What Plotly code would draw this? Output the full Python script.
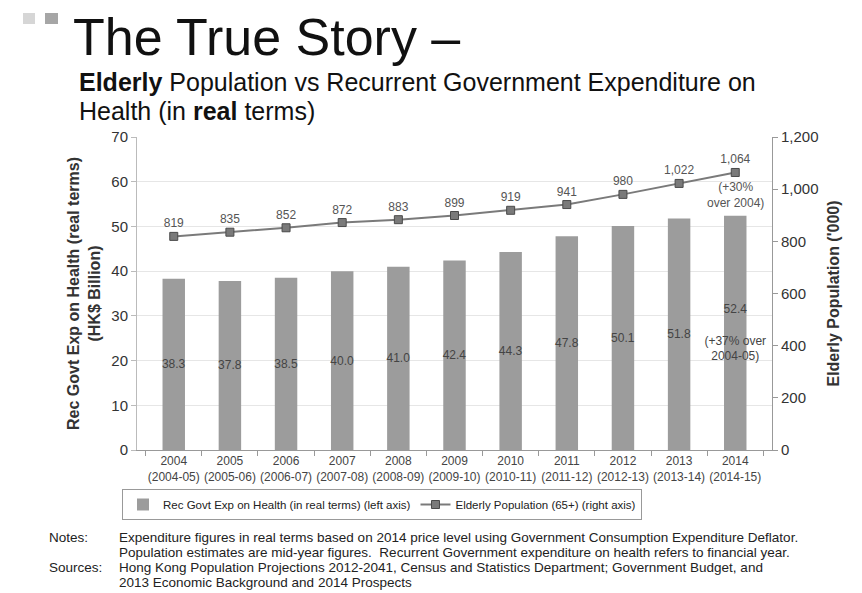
import plotly.graph_objects as go

years = ["2004", "2005", "2006", "2007", "2008", "2009", "2010", "2011", "2012", "2013", "2014"]
fin_years = ["2004-05", "2005-06", "2006-07", "2007-08", "2008-09", "2009-10",
             "2010-11", "2011-12", "2012-13", "2013-14", "2014-15"]
expenditure = [38.3, 37.8, 38.5, 40.0, 41.0, 42.4, 44.3, 47.8, 50.1, 51.8, 52.4]
elderly_pop = [819, 835, 852, 872, 883, 899, 919, 941, 980, 1022, 1064]

left_ticks = [0, 10, 20, 30, 40, 50, 60, 70]
right_ticks = [0, 200, 400, 600, 800, 1000, 1200]

note_lines = [
    "Expenditure figures in real terms based on 2014 price level using Government Consumption Expenditure Deflator.",
    "Population estimates are mid-year figures.  Recurrent Government expenditure on health refers to financial year.",
]
source_lines = [
    "Hong Kong Population Projections 2012-2041, Census and Statistics Department; Government Budget, and",
    "2013 Economic Background and 2014 Prospects",
]

W, H = 862, 593
L, R, T, B = 137, 772, 137, 450

def px(x):
    return (x - L) / (R - L)

def py(y):
    return (B - y) / (B - T)

cats = [f"{y}<br>({f})" for y, f in zip(years, fin_years)]

bar_text = [f"{v:.1f}" for v in expenditure]
bar_text[-1] = f"{expenditure[-1]:.1f}<br> <br>(+37% over<br>2004-05)"

SANS = "Liberation Sans, Arial"

fig = go.Figure()
fig.add_trace(go.Bar(
    x=cats, y=expenditure, name="Rec Govt Exp on Health (in real terms) (left axis)",
    marker=dict(color="#9c9c9c", line=dict(width=0)),
    text=bar_text, textposition="inside", insidetextanchor="middle",
    constraintext="none", textangle=0,
    textfont=dict(family=SANS, size=12, color="#444"),
    yaxis="y",
))
fig.add_trace(go.Scatter(
    x=cats, y=elderly_pop, name="Elderly Population (65+) (right axis)",
    mode="lines+markers+text",
    line=dict(color="#7a7a7a", width=2),
    marker=dict(symbol="square", size=8, color="#7a7a7a", line=dict(color="#4a4a4a", width=1)),
    text=[f"{v:,}" for v in elderly_pop], textposition="top center",
    textfont=dict(family=SANS, size=12, color="#555"),
    yaxis="y2",
))

fig.update_layout(
    width=W, height=H,
    margin=dict(l=L, r=W - R, t=T, b=H - B, pad=0),
    paper_bgcolor="white", plot_bgcolor="white",
    showlegend=True,
    bargap=0.6,
    font=dict(family=SANS, color="#333"),
    xaxis=dict(
        type="category", showline=True, linecolor="#999", linewidth=1,
        ticks="outside", tickson="boundaries", ticklen=5, tickcolor="#999",
        tickfont=dict(family=SANS, size=12, color="#444"), tickangle=0,
        showgrid=False, mirror=False,
    ),
    yaxis=dict(
        range=[0, 70], tickvals=left_ticks, showline=True, linecolor="#bbb",
        ticks="outside", ticklen=5, tickcolor="#bbb",
        showgrid=True, gridcolor="#e6e6e6", gridwidth=1, zeroline=False,
        tickfont=dict(family=SANS, size=15, color="#333"),
        title=dict(text="Rec Govt Exp on Health (real terms)<br>(HK$ Billion)",
                   font=dict(family=SANS, size=16, color="#333", weight="bold"), standoff=6),
    ),
    yaxis2=dict(
        range=[0, 1200], tickvals=right_ticks, tickformat=",", overlaying="y", side="right",
        showline=True, linecolor="#999", ticks="outside", ticklen=5, tickcolor="#999",
        showgrid=False, zeroline=False,
        tickfont=dict(family=SANS, size=15, color="#333"),
        title=dict(text="Elderly Population ('000)",
                   font=dict(family=SANS, size=16, color="#333", weight="bold"), standoff=10),
    ),
    legend=dict(
        orientation="h", x=px(122), y=py(489), xanchor="left", yanchor="top",
        bordercolor="#999", borderwidth=1, bgcolor="white",
        font=dict(family=SANS, size=11.5, color="#222"),
        itemwidth=30, tracegroupgap=0,
    ),
)

anns = [
    dict(text="The True Story \u2013", x=px(72), y=py(67), xanchor="left", yanchor="bottom",
         font=dict(family=SANS, size=52, color="#111"), borderpad=0),
    dict(text="<b>Elderly</b> Population vs Recurrent Government Expenditure on",
         x=px(78), y=py(97), xanchor="left", yanchor="bottom",
         font=dict(family=SANS, size=25, color="#111"), borderpad=0),
    dict(text="Health (in <b>real</b> terms)",
         x=px(78), y=py(126), xanchor="left", yanchor="bottom",
         font=dict(family=SANS, size=25, color="#111"), borderpad=0),
    dict(text="(+30%<br>over 2004)", x=cats[-1], y=elderly_pop[-1], xref="x", yref="y2",
         xanchor="center", yanchor="top", yshift=-6, showarrow=False,
         font=dict(family=SANS, size=12, color="#555")),
    dict(text="Notes:", x=px(47), y=py(537), xanchor="left", yanchor="middle",
         font=dict(family=SANS, size=13.5, color="#222")),
    dict(text="Sources:", x=px(47), y=py(567), xanchor="left", yanchor="middle",
         font=dict(family=SANS, size=13.5, color="#222")),
]
for i, line in enumerate(note_lines):
    anns.append(dict(text=line, x=px(117), y=py(537 + 15 * i), xanchor="left", yanchor="middle",
                     font=dict(family=SANS, size=13.5, color="#222")))
for i, line in enumerate(source_lines):
    anns.append(dict(text=line, x=px(117), y=py(567 + 15.5 * i), xanchor="left", yanchor="middle",
                     font=dict(family=SANS, size=13.5, color="#222")))

for a in anns:
    a.setdefault("xref", "paper")
    a.setdefault("yref", "paper")
    a.setdefault("showarrow", False)
    fig.add_annotation(**a)

fig.add_shape(type="rect", xref="paper", yref="paper",
              x0=px(23), x1=px(35), y0=py(13), y1=py(24),
              fillcolor="#d6d6d6", line=dict(width=0))
fig.add_shape(type="rect", xref="paper", yref="paper",
              x0=px(45), x1=px(58), y0=py(13), y1=py(24),
              fillcolor="#a6a6a6", line=dict(width=0))

fig.write_html("out.html")
